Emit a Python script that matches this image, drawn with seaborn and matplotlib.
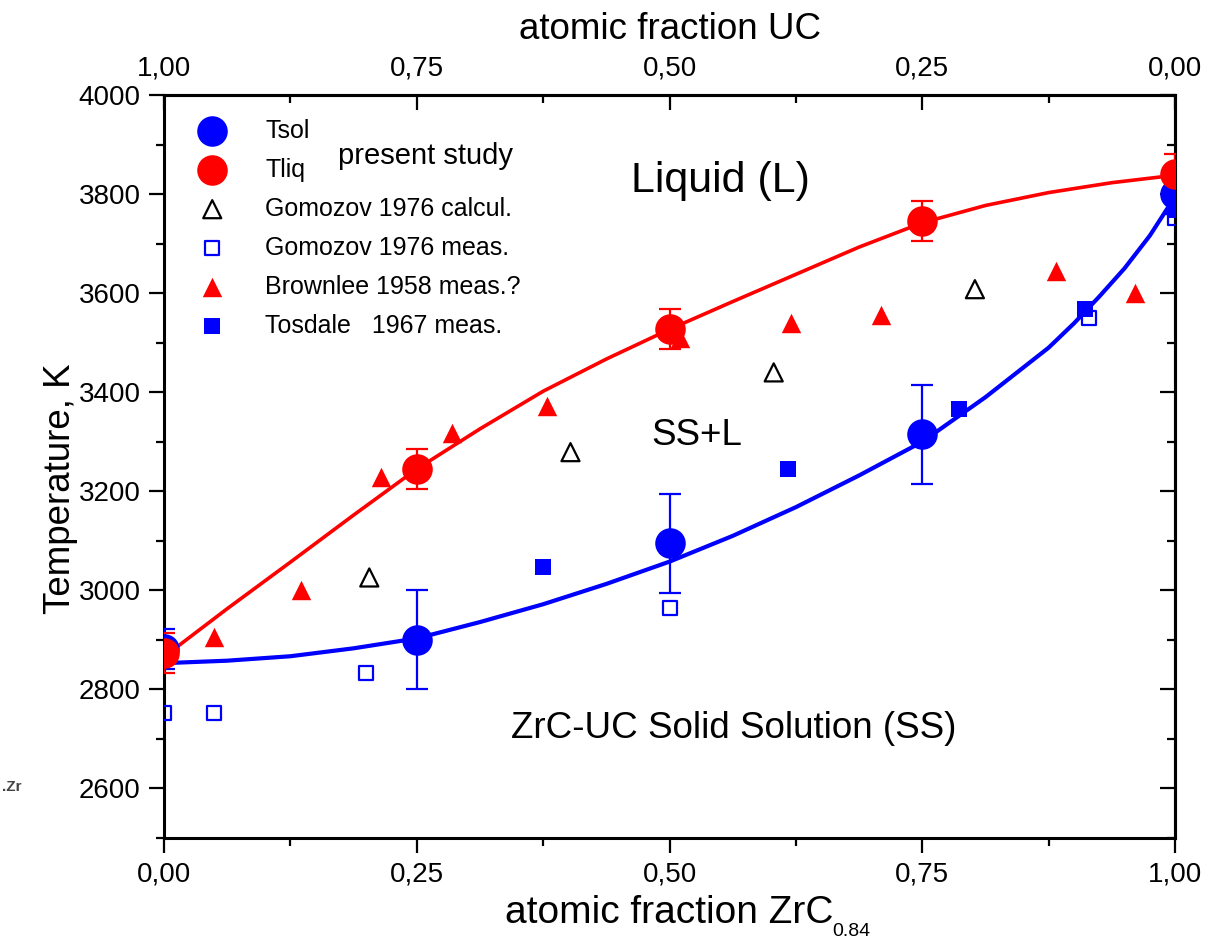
import numpy as np
import pandas as pd
import matplotlib
matplotlib.use("Agg")
import matplotlib.pyplot as plt
import seaborn as sns
from matplotlib.ticker import MultipleLocator, FuncFormatter

# ---------------- data ----------------
present_x = [0.0, 0.25, 0.5, 0.75, 1.0]
tsol = [2882, 2900, 3095, 3315, 3800]
tsol_err = [40, 100, 100, 100, 40]
tliq = [2873, 3245, 3527, 3746, 3840]
tliq_err = [40, 40, 40, 40, 40]

gom_calc_x = [0.203, 0.402, 0.603, 0.802]
gom_calc_T = [3026, 3279, 3440, 3608]

gom_meas_x = [0.0, 0.049, 0.20, 0.50, 0.915, 1.0]
gom_meas_T = [2752, 2753, 2834, 2965, 3550, 3752]

brown_x = [0.049, 0.135, 0.215, 0.285, 0.379, 0.51, 0.62, 0.709, 0.882, 0.96]
brown_T = [2905, 3000, 3228, 3317, 3372, 3510, 3539, 3556, 3644, 3600]

tosd_x = [0.375, 0.617, 0.786, 0.911, 1.0]
tosd_T = [3047, 3245, 3367, 3568, 3768]

# fitted curves
liq_curve_x = [0.0, 0.0625, 0.125, 0.1875, 0.25, 0.3125, 0.375, 0.4375, 0.5, 0.5625,
               0.625, 0.6875, 0.75, 0.8125, 0.875, 0.9375, 1.0]
liq_curve_T = [2866, 2963, 3057, 3152, 3245, 3326, 3402, 3467, 3527, 3583,
               3638, 3693, 3742, 3777, 3803, 3823, 3838]
sol_curve_x = [0.0, 0.0625, 0.125, 0.1875, 0.25, 0.3125, 0.375, 0.4375, 0.5, 0.5625,
               0.625, 0.6875, 0.75, 0.8125, 0.875, 0.9, 0.925, 0.95, 0.975, 1.0]
sol_curve_T = [2853, 2858, 2867, 2883, 2903, 2936, 2972, 3013, 3058, 3110,
               3168, 3232, 3300, 3390, 3490, 3539, 3593, 3650, 3716, 3795]

xticks = [0.0, 0.25, 0.5, 0.75, 1.0]

# ---------------- style ----------------
sns.set_theme(style="ticks")
plt.rcParams["font.family"] = ["Liberation Sans", "DejaVu Sans"]
for key in ["text.color", "axes.labelcolor", "xtick.color", "ytick.color", "axes.edgecolor"]:
    plt.rcParams[key] = "black"

fig = plt.figure(figsize=(12.28, 9.48), dpi=100)
ax = fig.add_axes([0.1336, 0.116, 0.8233, 0.7838])

BLUE = "#0000ff"
RED = "#ff0000"

# curves
sns.lineplot(x=liq_curve_x, y=liq_curve_T, ax=ax, color=RED, lw=2.6,
             estimator=None, sort=False, legend=False, zorder=3)
sns.lineplot(x=sol_curve_x, y=sol_curve_T, ax=ax, color=BLUE, lw=3.0,
             estimator=None, sort=False, legend=False, zorder=3)

# error bars
ax.errorbar(present_x, tsol, yerr=tsol_err, fmt="none", ecolor=BLUE,
            elinewidth=1.6, capsize=8, capthick=1.6, zorder=4)
ax.errorbar(present_x, tliq, yerr=tliq_err, fmt="none", ecolor=RED,
            elinewidth=1.6, capsize=8, capthick=1.6, zorder=4)

# points
sns.scatterplot(x=present_x, y=tsol, ax=ax, marker="o", s=22**2, color=BLUE,
                edgecolor=BLUE, linewidth=0, label="Tsol", zorder=5)
sns.scatterplot(x=present_x, y=tliq, ax=ax, marker="o", s=22**2, color=RED,
                edgecolor=RED, linewidth=0, label="Tliq", zorder=5)
sns.scatterplot(x=gom_calc_x, y=gom_calc_T, ax=ax, marker="^", s=13**2,
                facecolor="none", edgecolor="black", linewidth=1.6,
                label="Gomozov 1976 calcul.", zorder=5)
sns.scatterplot(x=gom_meas_x, y=gom_meas_T, ax=ax, marker="s", s=10**2,
                facecolor="none", edgecolor=BLUE, linewidth=1.6,
                label="Gomozov 1976 meas.", zorder=5)
sns.scatterplot(x=brown_x, y=brown_T, ax=ax, marker="^", s=14**2, color=RED,
                edgecolor=RED, linewidth=0, label="Brownlee 1958 meas.?", zorder=5)
sns.scatterplot(x=tosd_x, y=tosd_T, ax=ax, marker="s", s=11**2, color=BLUE,
                edgecolor=BLUE, linewidth=0, label="Tosdale   1967 meas.", zorder=5)

# axes limits & ticks
ax.set_xlim(0, 1)
ax.set_ylim(2500, 4000)
fmt = FuncFormatter(lambda v, p: f"{v:.2f}".replace(".", ","))
ax.set_xticks(xticks)
ax.xaxis.set_major_formatter(fmt)
ax.xaxis.set_minor_locator(MultipleLocator(0.125))
ax.yaxis.set_major_locator(MultipleLocator(200))
ax.yaxis.set_minor_locator(MultipleLocator(100))
ax.tick_params(axis="both", which="major", direction="out", length=11, width=1.6,
               labelsize=20, colors="black", pad=6)
ax.tick_params(axis="both", which="minor", direction="out", length=6, width=1.6)
for sp in ax.spines.values():
    sp.set_linewidth(2.2)
    sp.set_color("black")
    sp.set_visible(True)

# top axis: atomic fraction UC
top = ax.secondary_xaxis("top", functions=(lambda x: 1 - x, lambda x: 1 - x))
top.set_xticks(xticks)
top.xaxis.set_major_formatter(fmt)
top.xaxis.set_minor_locator(MultipleLocator(0.125))
top.tick_params(axis="x", which="major", direction="in", length=11, width=1.6,
                labelsize=20, pad=9.5, colors="black")
top.tick_params(axis="x", which="minor", direction="in", length=6, width=1.6)
top.spines["top"].set_linewidth(2.2)
top.set_xlabel("atomic fraction UC", fontsize=26.5, labelpad=12)

# right axis ticks inward, no labels
right = ax.secondary_yaxis("right")
right.yaxis.set_major_locator(MultipleLocator(200))
right.yaxis.set_minor_locator(MultipleLocator(100))
right.tick_params(axis="y", which="major", direction="in", length=11, width=1.6,
                  labelright=False, colors="black")
right.tick_params(axis="y", which="minor", direction="in", length=6, width=1.6)
right.spines["right"].set_linewidth(2.2)

ax.set_xlabel("atomic fraction ZrC", fontsize=28, labelpad=5)
ax.annotate("0.84", xy=(1, 0), xycoords=ax.xaxis.label, xytext=(-1, -1),
            textcoords="offset points", fontsize=14, ha="left", va="center")
ax.set_ylabel("Temperature, K", fontsize=26.5, labelpad=10)
ax.yaxis.set_label_coords(-0.085, 0.47)

# annotations
ax.text(0.55, 3826, "Liquid (L)", fontsize=31, ha="center", va="center")
ax.text(0.527, 3313, "SS+L", fontsize=26.5, ha="center", va="center")
ax.text(0.563, 2721, "ZrC-UC Solid Solution (SS)", fontsize=26.5, ha="center", va="center")
ax.text(0.172, 0.918, "present study", transform=ax.transAxes, fontsize=21,
        ha="left", va="center")
fig.text(0.002, 0.170, ".Zr", fontsize=11, color="#444444", fontweight="bold",
         ha="left", va="center")

leg = ax.legend(loc="upper left", bbox_to_anchor=(-0.006, 1.0), frameon=False,
                fontsize=18, handletextpad=0.9, labelspacing=0.6,
                borderaxespad=0.55, handlelength=2.44)

fig.savefig("out.png", dpi=100)
